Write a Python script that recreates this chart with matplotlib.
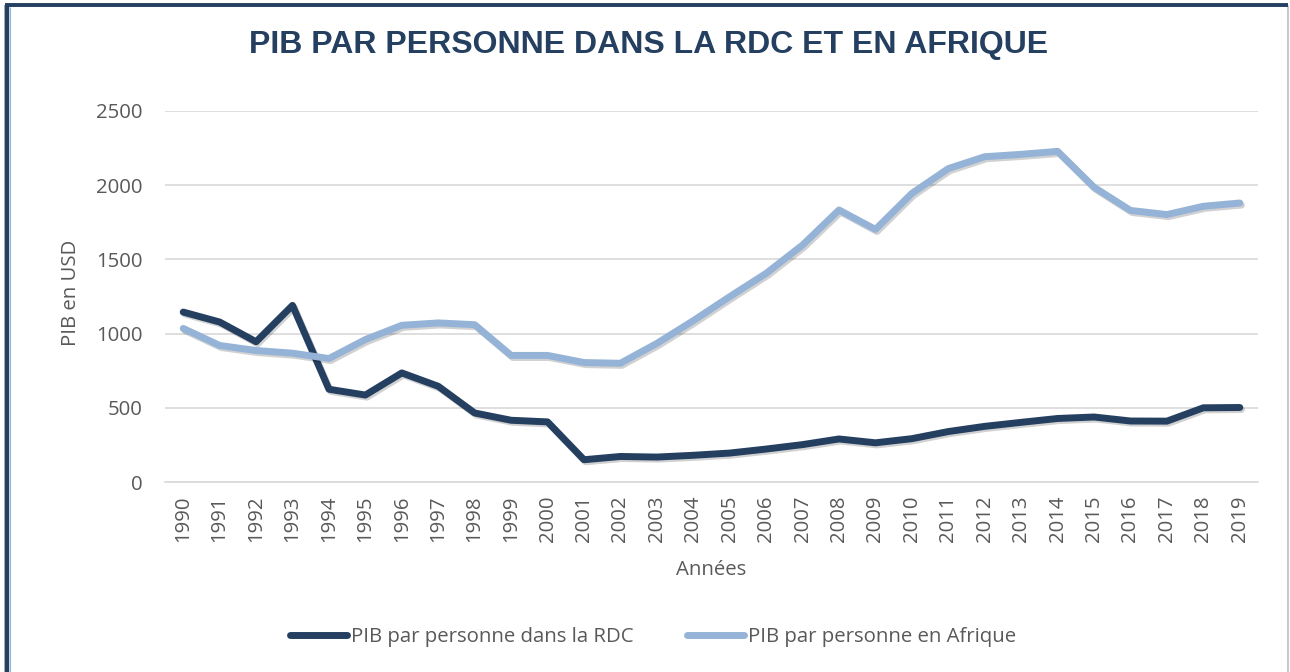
import matplotlib
matplotlib.use("Agg")
import matplotlib.pyplot as plt
import matplotlib.patheffects as pe
from matplotlib.patches import Rectangle
from matplotlib.lines import Line2D

years = [str(y) for y in range(1990, 2020)]
rdc = [1145, 1078, 945, 1190, 625, 586, 735, 645, 465, 416, 405, 150,
       172, 168, 180, 195, 222, 252, 290, 264, 292, 340, 375, 402,
       428, 438, 411, 410, 500, 502]
afrique = [1035, 920, 886, 868, 832, 960, 1056, 1072, 1060, 853, 853, 805,
           800, 934, 1087, 1249, 1406, 1597, 1833, 1702, 1945, 2112, 2192, 2208,
           2228, 1986, 1830, 1802, 1858, 1880]
yticks = [0, 500, 1000, 1500, 2000, 2500]

title = "PIB PAR PERSONNE DANS LA RDC ET EN AFRIQUE"
label_rdc = "PIB par personne dans la RDC"
label_afr = "PIB par personne en Afrique"

DARK = "#243F60"
LIGHT = "#95B3D7"
TXT = "#595959"
FS = 14.7

W, H = 1290, 672
fig = plt.figure(figsize=(W / 100, H / 100), dpi=100)
fig.patch.set_facecolor("white")

# frame
fig.add_artist(Rectangle((5 / W, -0.05), 1288 / W - 5 / W, 1.05 - 6 / H,
                         transform=fig.transFigure, fill=False,
                         edgecolor="#BFBFBF", linewidth=1.2))
fig.add_artist(Line2D([7 / W, 7 / W], [0, 1 - 5 / H], transform=fig.transFigure,
                      color=DARK, linewidth=3.2, solid_capstyle="butt"))
fig.add_artist(Line2D([9.5 / W, 9.5 / W], [0, 1 - 7 / H], transform=fig.transFigure,
                      color=LIGHT, linewidth=0.8, solid_capstyle="butt"))
fig.add_artist(Line2D([5 / W, 1288 / W], [1 - 5 / H, 1 - 5 / H], transform=fig.transFigure,
                      color=DARK, linewidth=2.8, solid_capstyle="butt"))

left, right, top, bottom = 165, 1258, 111, 482
ax = fig.add_axes([left / W, 1 - bottom / H, (right - left) / W, (bottom - top) / H])

x = list(range(len(years)))
shadow = [pe.SimpleLineShadow(offset=(1.2, -1.5), alpha=0.18, shadow_color="black"), pe.Normal()]
ax.plot(x, rdc, color=DARK, linewidth=5, solid_capstyle="round", solid_joinstyle="round",
        label=label_rdc, path_effects=shadow, zorder=3)
ax.plot(x, afrique, color=LIGHT, linewidth=5, solid_capstyle="round", solid_joinstyle="round",
        label=label_afr, path_effects=shadow, zorder=3)

ax.set_xlim(-0.5, len(years) - 0.5)
ax.set_ylim(0, 2500)
ax.set_yticks(yticks)
ax.set_yticklabels([str(v) for v in yticks])
ax.set_xticks(x)
ax.set_xticklabels(years, rotation=90)
ax.grid(axis="y", color="#D9D9D9", linewidth=1.2)
ax.set_axisbelow(True)
for s in ["top", "right", "left"]:
    ax.spines[s].set_visible(False)
ax.spines["bottom"].set_color("#D9D9D9")
ax.spines["bottom"].set_linewidth(1.2)
ax.tick_params(axis="both", length=0, colors=TXT, labelsize=FS)
ax.tick_params(axis="y", pad=16)
ax.tick_params(axis="x", pad=10)
for t in ax.get_xticklabels() + ax.get_yticklabels():
    t.set_fontfamily("Open Sans")

fig.text(711 / W, 1 - 570 / H, "Années", ha="center", va="center",
         fontsize=FS, color=TXT, family="Open Sans")
fig.text(71 / W, 1 - 293 / H, "PIB en USD", ha="center", va="center", rotation=90,
         fontsize=FS, color=TXT, family="Open Sans")
fig.text(649 / W, 1 - 45 / H, title, ha="center", va="center", fontsize=23,
         fontweight="bold", color=DARK, family="Liberation Sans")

leg = fig.legend(loc="center", bbox_to_anchor=(653 / W, 1 - 637 / H), ncol=2, frameon=False,
                 prop={"family": "Open Sans", "size": FS}, handlelength=2.8,
                 handletextpad=0.2, columnspacing=2.6, labelcolor=TXT)
for h in leg.get_lines():
    h.set_linewidth(5)
    h.set_path_effects([])

fig.savefig("out.png", dpi=100)
